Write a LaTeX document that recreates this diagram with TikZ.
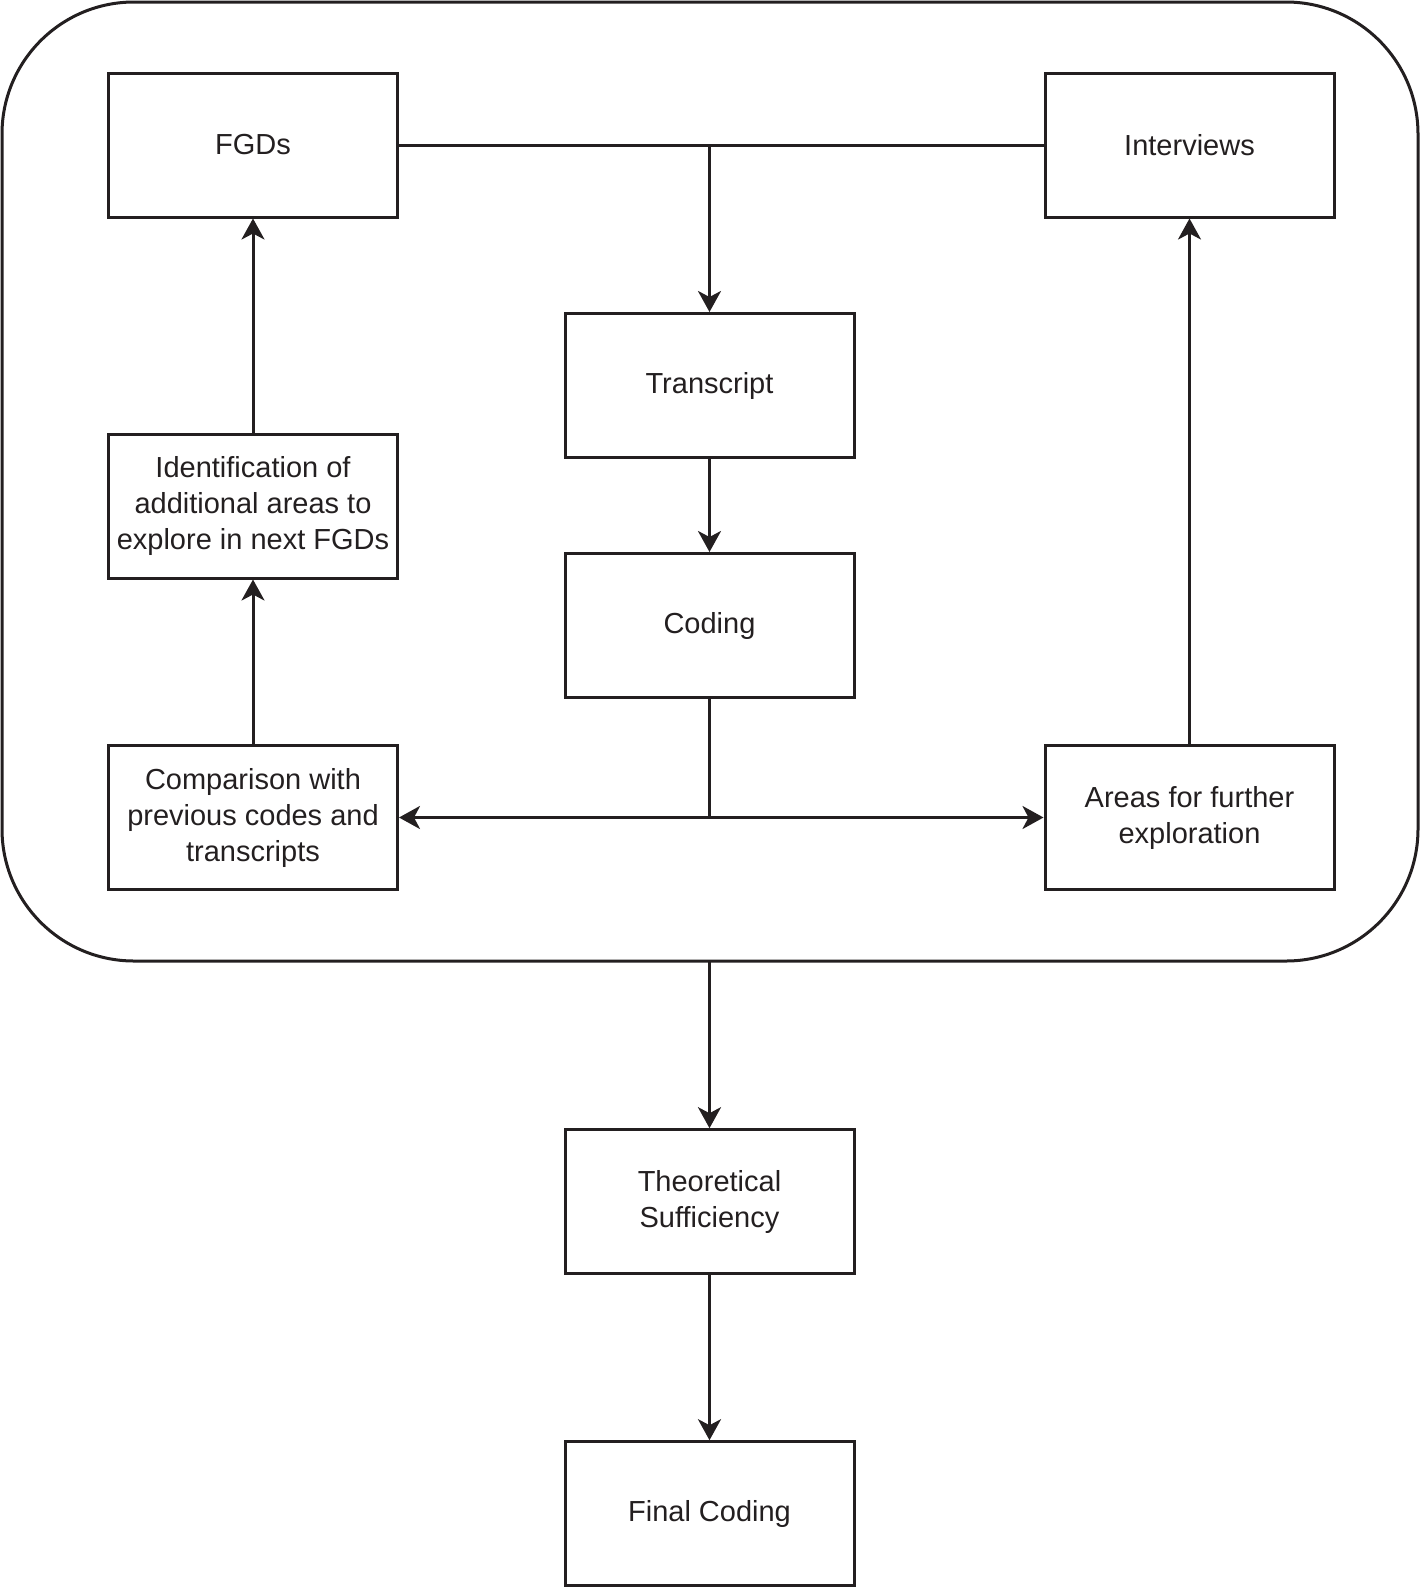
\documentclass[tikz,border=0pt]{standalone}
\usepackage{fontspec}
\setmainfont{Liberation Sans}
\usetikzlibrary{arrows.meta}
\definecolor{ink}{HTML}{231F20}
\begin{document}
\begin{tikzpicture}[x=1pt,y=-1pt,
  box/.style={draw=ink,line width=3pt,minimum width=289pt,minimum height=144pt,align=center,
    text=ink,inner sep=0pt,font=\fontsize{29}{36}\selectfont},
  conn/.style={draw=ink,line width=3pt},
  arr/.style={conn,-{Stealth[length=21pt,width=23pt,inset=6pt]}}]
\useasboundingbox (0,0) rectangle (1420,1588);
\draw[ink,line width=3pt,rounded corners=132pt] (2,2) rectangle (1418,961);
\node[box] (fgd) at (253,145) {FGDs};
\node[box] (int) at (1189.5,145) {Interviews};
\node[box] (tr) at (709.5,385.5) {Transcript};
\node[box] (cod) at (709.5,625.5) {Coding};
\node[box] (ide) at (253,506) {Identification of\\additional areas to\\explore in next FGDs};
\node[box] (com) at (253,817.5) {Comparison with\\previous codes and\\transcripts};
\node[box] (are) at (1189.5,817.5) {Areas for further\\exploration};
\node[box] (the) at (709.5,1201.7) {Theoretical\\Sufficiency};
\node[box] (fin) at (709.5,1513.7) {Final Coding};
\coordinate (top) at (709.5,145);
\coordinate (mid) at (709.5,817.5);
\coordinate (outb) at (709.5,961);
\draw[conn] (fgd.east) -- (int.west);
\draw[arr] (top) -- (tr.north);
\draw[arr] (tr) -- (cod);
\draw[conn] (cod.south) -- (mid);
\draw[arr] (mid) -- (com.east);
\draw[arr] (mid) -- (are.west);
\draw[arr] (com) -- (ide);
\draw[arr] (ide) -- (fgd);
\draw[arr] (are) -- (int);
\draw[arr] (outb) -- (the.north);
\draw[arr] (the) -- (fin);
\end{tikzpicture}
\end{document}
